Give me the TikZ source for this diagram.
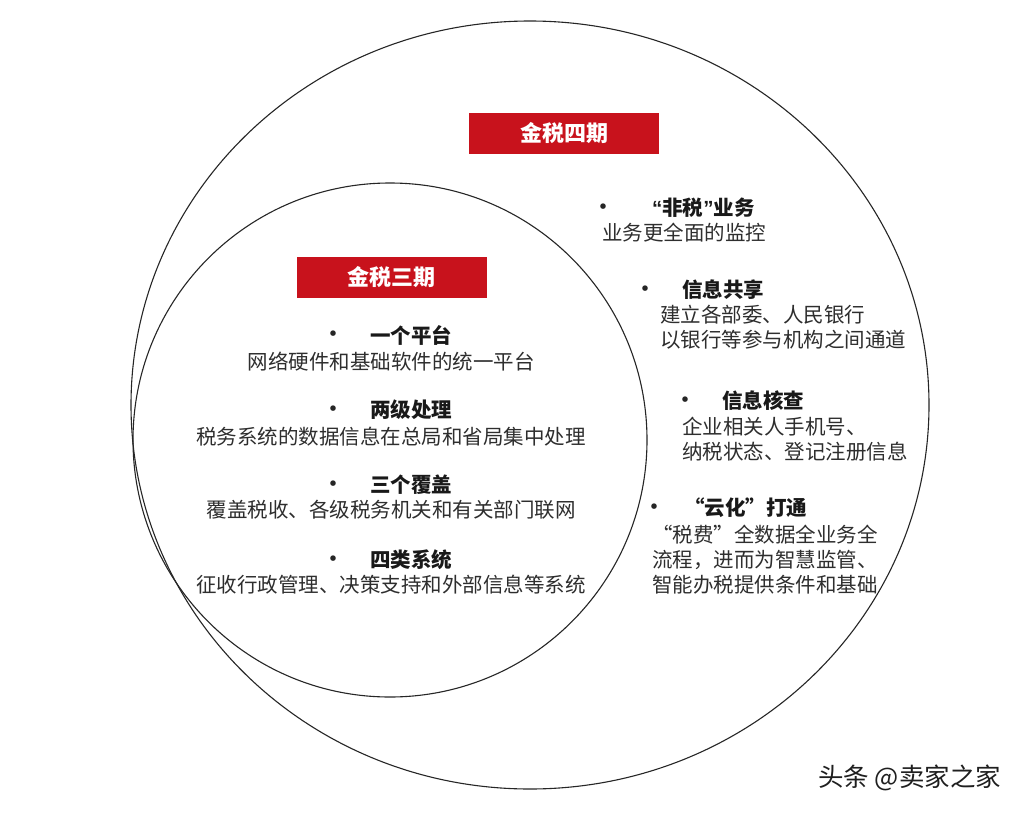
\documentclass[tikz,border=0pt]{standalone}
\usepackage{fontspec}
\setmainfont{Noto Sans CJK SC}
\newfontfamily\latinq{Liberation Sans}
\begin{document}
\begin{tikzpicture}[x=1pt,y=-1pt,
  ring/.style={draw=black!85, line width=1.1pt},
  redbox/.style={fill=boxred, draw=none, minimum width=190pt, minimum height=41pt, inner sep=0pt,
     text=white, font=\fontsize{22}{24}\selectfont\bfseries},
  ttl/.style={inner sep=0pt, text=black!90, font=\fontsize{20.5}{24}\selectfont\bfseries},
  body/.style={inner sep=0pt, text=black!82, font=\fontsize{20.5}{24}\selectfont},
  bul/.style={inner sep=0pt, text=black!85, font=\fontsize{26}{28}\selectfont},
  wm/.style={inner sep=0pt, text=black!88, font=\fontsize{25.5}{28}\selectfont}
]
\definecolor{boxred}{RGB}{200,18,28}
\useasboundingbox[fill=white] (0,0) rectangle (1032,816);

% circles
\draw[ring] (530,405) ellipse [x radius=399, y radius=384];
\draw[ring] (390,440) circle [radius=257];

% red labels
\node[redbox] (q4) at (564,133) {金税四期};
\node[redbox] (q3) at (391.5,277.5) {金税三期};

% inner circle: golden tax phase III
\node[bul] (b1) at (333,337) {•};
\node[ttl, anchor=west] (t1) at (370,335) {一个平台};
\node[body] (d1) at (391,362) {网络硬件和基础软件的统一平台};

\node[bul] (b2) at (333,412) {•};
\node[ttl, anchor=west] (t2) at (370,410) {两级处理};
\node[body] (d2) at (391,437) {税务系统的数据信息在总局和省局集中处理};

\node[bul] (b3) at (333,487) {•};
\node[ttl, anchor=west] (t3) at (370,485) {三个覆盖};
\node[body] (d3) at (391,510) {覆盖税收、各级税务机关和有关部门联网};

\node[bul] (b4) at (333,562) {•};
\node[ttl, anchor=west] (t4) at (370,560) {四类系统};
\node[body] (d4) at (391,585) {征收行政管理、决策支持和外部信息等系统};

% outer ring: golden tax phase IV
\node[bul] (b5) at (603,210) {•};
\node[ttl, anchor=west] (t5) at (652,208) {{\latinq\bfseries “}非税{\latinq\bfseries ”}业务};
\node[body, anchor=west] (d5) at (602,233) {业务更全面的监控};

\node[bul] (b6) at (645,292) {•};
\node[ttl, anchor=west] (t6) at (682,290) {信息共享};
\node[body, anchor=west] (d6a) at (660,315) {建立各部委、人民银行};
\node[body, anchor=west] (d6b) at (660,340) {以银行等参与机构之间通道};

\node[bul] (b7) at (685,403) {•};
\node[ttl, anchor=west] (t7) at (722,401) {信息核查};
\node[body, anchor=west] (d7a) at (682,427) {企业相关人手机号、};
\node[body, anchor=west] (d7b) at (682,452) {纳税状态、登记注册信息};

\node[bul] (b8) at (654,510) {•};
\node[ttl, anchor=west] (t8) at (684,508) {“云化”打通};
\node[body, anchor=west] (d8a) at (652,535) {“税费”全数据全业务全};
\node[body, anchor=west] (d8b) at (652,560) {流程，进而为智慧监管、};
\node[body, anchor=west] (d8c) at (652,585) {智能办税提供条件和基础};

% watermark
\node[wm, anchor=west] (w) at (818,778) {头条 @卖家之家};
\end{tikzpicture}
\end{document}
